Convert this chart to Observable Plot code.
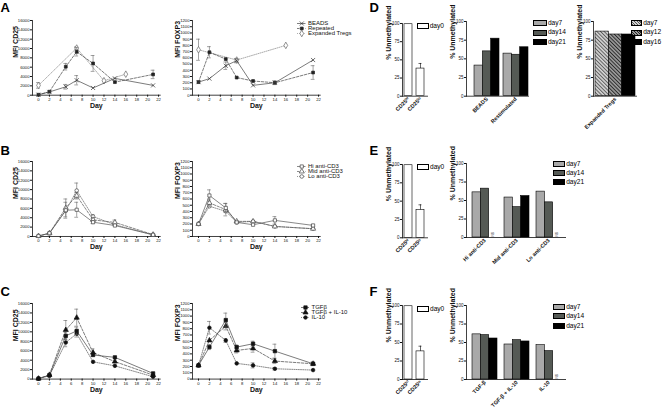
<!DOCTYPE html>
<html><head><meta charset="utf-8">
<script src="https://cdn.jsdelivr.net/npm/d3@7"></script>
<script src="https://cdn.jsdelivr.net/npm/@observablehq/plot@0.6"></script>
<style>
body{margin:0;background:#fff;}
#fig{position:relative;width:662px;height:413px;overflow:hidden;background:#fff;font-family:"Liberation Sans",Arial,sans-serif;color:#000;}
.letter{position:absolute;font-weight:bold;font-size:13px;line-height:13px;}
.lg{position:absolute;font-size:6.6px;line-height:6.6px;white-space:nowrap;}
.lg span.box{position:absolute;left:0;top:0;border:0.6px solid #000;box-sizing:border-box;}
.lg span.t{position:absolute;top:-0.2px;}
svg.bars g[aria-label="x-axis tick label"]{font-weight:bold;}
</style></head><body>
<div id="fig">
<svg width="0" height="0" style="position:absolute;left:0;top:0">
<defs>
<pattern id="hatchLight" width="2.6" height="2.6" patternUnits="userSpaceOnUse" patternTransform="rotate(-45)">
<rect width="2.6" height="2.6" fill="#d2d2d2"/><line x1="0.5" y1="0" x2="0.5" y2="2.6" stroke="#555" stroke-width="0.9"/>
</pattern>
<pattern id="hatchDark" width="2.6" height="2.6" patternUnits="userSpaceOnUse" patternTransform="rotate(-45)">
<rect width="2.6" height="2.6" fill="#9a9a9a"/><line x1="0.5" y1="0" x2="0.5" y2="2.6" stroke="#222" stroke-width="0.9"/>
</pattern>
</defs></svg>
</div>
<script>
// ---------- DATA ----------
const dayTicks = [0, 2, 4, 6, 8, 10, 12, 14, 16, 18, 20, 22];
const cd25Ticks = [0, 2000, 4000, 6000, 8000, 10000, 12000, 14000, 16000];
const foxp3Ticks = [0, 100, 200, 300, 400, 500, 600, 700, 800, 900, 1000, 1100, 1200];
const pctTicks = [0, 25, 50, 75, 100];
const days = [0, 2, 5, 7, 10, 14, 21];
const expDaysCD25 = [0, 7, 12, 16];
const expDaysFOXP3 = [0, 7, 16];

// Panel A
const aCD25Beads = [100, 700, 1800, 3200, 1550, 3600, 2100];
const aCD25BeadsErr = [0, 0, 500, 1000, 0, 0, 0];
const aCD25Repeated = [100, 750, 6100, 9300, 6800, 2800, 4450];
const aCD25RepeatedErr = [0, 0, 700, 900, 1700, 0, 900];
const aCD25Expanded = [2100, 10100, 3100, 4500];
const aCD25ExpandedErr = [600, 300, 0, 0];
const aFOXP3Beads = [210, 266, 473, 555, 158, 200, 565];
const aFOXP3BeadsErr = [0, 0, 60, 35, 0, 0, 0];
const aFOXP3Repeated = [210, 690, 580, 283, 228, 200, 364];
const aFOXP3RepeatedErr = [0, 90, 0, 0, 0, 30, 110];
const aFOXP3Expanded = [730, 565, 800];
const aFOXP3ExpandedErr = [170, 0, 0];

// Panel B
const bCD25Hi = [100, 700, 5600, 5700, 3050, 2340, 350];
const bCD25HiErr = [0, 0, 1700, 1600, 300, 0, 0];
const bCD25Mid = [100, 700, 6100, 8700, 3550, 3000, 400];
const bCD25MidErr = [0, 0, 1900, 700, 0, 500, 0];
const bCD25Lo = [100, 700, 5500, 9800, 4250, 2500, 350];
const bCD25LoErr = [0, 0, 0, 1600, 400, 0, 0];
const bFOXP3Hi = [200, 656, 457, 226, 188, 258, 177];
const bFOXP3HiErr = [0, 90, 70, 0, 0, 60, 15];
const bFOXP3Mid = [200, 538, 430, 242, 242, 161, 124];
const bFOXP3MidErr = [0, 60, 100, 0, 0, 0, 0];
const bFOXP3Lo = [200, 484, 403, 226, 242, 161, 124];
const bFOXP3LoErr = [0, 0, 0, 0, 0, 0, 0];

// Panel C
const cCD25Tgfb = [100, 800, 9150, 10200, 5100, 4600, 1200];
const cCD25TgfbErr = [0, 300, 800, 800, 0, 0, 0];
const cCD25TgfbIl10 = [100, 900, 10400, 13000, 5600, 3700, 850];
const cCD25TgfbIl10Err = [0, 0, 2000, 1800, 800, 0, 0];
const cCD25Il10 = [100, 700, 7750, 9600, 3650, 2800, 500];
const cCD25Il10Err = [0, 0, 900, 700, 0, 0, 0];
const cFOXP3Tgfb = [217, 508, 937, 508, 561, 444, 243];
const cFOXP3TgfbErr = [0, 40, 110, 30, 40, 110, 30];
const cFOXP3TgfbIl10 = [217, 614, 841, 455, 487, 286, 243];
const cFOXP3TgfbIl10Err = [0, 0, 60, 40, 60, 40, 0];
const cFOXP3Il10 = [217, 815, 614, 249, 217, 164, 143];
const cFOXP3Il10Err = [0, 100, 30, 0, 40, 20, 0];

// Bar charts (% unmethylated)
const ctrlCats = ["CD25hi", "CD25lo"];
const ctrlLabels = ["CD25ʰⁱ", "CD25ˡᵒ"];
const ctrlValues = [99, 38];
const ctrlErr = [0, 7];
const barKeys = ["day7", "day14", "day21"];
const dGroups = ["BEADS", "Restimulated"];
const dDay7 = [41, 57];
const dDay14 = [60, 55.5];
const dDay21 = [77, 65.5];
const dExpGroups = ["Expanded Tregs"];
const dExpKeys = ["day7", "day12", "day16"];
const dExpValues = [[86.5], [82.6], [82.6]];
const eGroups = ["Hi anti-CD3", "Mid anti-CD3", "Lo anti-CD3"];
const eDay7 = [61, 54, 62];
const eDay14 = [66, 41, 47.5];
const eDay21 = [null, 56, null];
const fGroups = ["TGF-β", "TGF-β + IL-10", "IL-10"];
const fDay7 = [61, 47.3, 46.4];
const fDay14 = [60, 53.2, 38.3];
const fDay21 = [55.4, 51.4, null];

// ---------- STYLES ----------
const styA = [
  {name: "BEADS", symbol: "times", fill: "none", stroke: "#333", line: "#444", dash: null, r: 2},
  {name: "Repeated", symbol: "square", fill: "#222", stroke: "#222", line: "#444", dash: "2.5,1.5", r: 1.6},
  {name: "Expanded Tregs", symbol: "diamond", fill: "#fff", stroke: "#666", line: "#888", dash: "1,1.2", r: 2}
];
const styB = [
  {name: "Hi anti-CD3", symbol: "square", fill: "#fff", stroke: "#444", line: "#555", dash: null, r: 1.8},
  {name: "Mid anti-CD3", symbol: "triangle", fill: "#fff", stroke: "#444", line: "#555", dash: "2.5,1.5", r: 1.9},
  {name: "Lo anti-CD3", symbol: "circle", fill: "#fff", stroke: "#444", line: "#666", dash: "1,1.2", r: 1.8}
];
const styC = [
  {name: "TGFβ", symbol: "square", fill: "#111", stroke: "#111", line: "#444", dash: null, r: 1.9},
  {name: "TGFβ + IL-10", symbol: "triangle", fill: "#111", stroke: "#111", line: "#444", dash: "2.5,1.5", r: 1.9},
  {name: "IL-10", symbol: "circle", fill: "#111", stroke: "#111", line: "#555", dash: "1,1.2", r: 1.8}
];
const FONT = "Liberation Sans, Arial, sans-serif";
const baseStyle = {background: "transparent", fontFamily: FONT, overflow: "visible", color: "#111"};

const fig = document.getElementById("fig");
function place(el, left, top) {
  el.style.position = "absolute";
  el.style.left = left + "px";
  el.style.top = top + "px";
  el.style.maxWidth = "none";
  fig.appendChild(el);
}
function letter(t, left, top) {
  const d = document.createElement("div");
  d.className = "letter"; d.textContent = t;
  d.style.left = left + "px"; d.style.top = top + "px";
  fig.appendChild(d);
}

function linePlot(o) {
  const mL = 32, mR = 3, mT = 4, mB = 22;
  const W = o.x1 - o.x0 + mL + mR, H = o.yB - o.yT + mT + mB;
  const marks = [
    Plot.axisY({ticks: o.yTicks, tickFormat: "d", tickSize: 2, tickPadding: 1, fontSize: 4.2, label: null}),
    Plot.axisX({ticks: dayTicks, tickFormat: "d", tickSize: 2, tickPadding: 1, fontSize: 4.2, label: null}),
    Plot.frame({anchor: "left", strokeWidth: 0.8}),
    Plot.frame({anchor: "bottom", strokeWidth: 0.8}),
    Plot.text([o.ylabel], {text: d => d, frameAnchor: "left", rotate: -90, dx: o.labDx, fontSize: 7, fontWeight: "bold"}),
    Plot.text(["Day"], {text: d => d, frameAnchor: "bottom", dy: 13, fontSize: 7, fontWeight: "bold"})
  ];
  for (const s of o.series) {
    const rows = s.days.map((d, i) => ({day: d, v: s.values[i], e: s.err[i]}));
    const er = rows.filter(r => r.e > 0);
    marks.push(Plot.line(rows, {x: "day", y: "v", stroke: s.sty.line, strokeWidth: 0.7, strokeDasharray: s.sty.dash}));
    marks.push(Plot.ruleX(er, {x: "day", y1: r => r.v - r.e, y2: r => r.v + r.e, stroke: "#666", strokeWidth: 0.6}));
    marks.push(Plot.ruleY(er, {y: r => r.v + r.e, x1: r => r.day - 0.35, x2: r => r.day + 0.35, stroke: "#666", strokeWidth: 0.6}));
    marks.push(Plot.ruleY(er, {y: r => r.v - r.e, x1: r => r.day - 0.35, x2: r => r.day + 0.35, stroke: "#666", strokeWidth: 0.6}));
    marks.push(Plot.dot(rows, {x: "day", y: "v", symbol: s.sty.symbol, r: s.sty.r, fill: s.sty.fill, stroke: s.sty.stroke, strokeWidth: 0.7}));
  }
  const svg = Plot.plot({
    width: W, height: H, marginLeft: mL, marginRight: mR, marginTop: mT, marginBottom: mB,
    x: {domain: [-1.1, 22.3]}, y: {domain: [0, o.yMax]}, style: baseStyle, marks
  });
  place(svg, o.x0 - mL, o.yT - mT);
}

function lineLegend(series, o) {
  const names = series.map(s => s.name);
  const H = o.step * names.length, W = 90;
  const marks = [];
  for (const s of series) {
    marks.push(Plot.ruleY([s.name], {x1: 0, x2: o.len, stroke: s.line, strokeWidth: 0.7, strokeDasharray: s.dash}));
    marks.push(Plot.dot([s.name], {x: o.len / 2, y: d => d, symbol: s.symbol, r: s.r, fill: s.fill, stroke: s.stroke, strokeWidth: 0.7}));
  }
  marks.push(Plot.text(names, {x: o.len, y: d => d, text: d => d, dx: 2, textAnchor: "start", fontSize: 6}));
  const svg = Plot.plot({
    width: W, height: H, margin: 0,
    x: {domain: [0, W], range: [0, W], axis: null},
    y: {type: "point", domain: names, range: [o.step / 2, H - o.step / 2], axis: null},
    style: baseStyle, marks
  });
  place(svg, o.left, o.top - o.step / 2);
}

function barPlot(o) {
  const mL = 26, mR = 2, mT = 4, mB = 40;
  const W = o.x1 - o.x0 + mL + mR, H = o.yB - o.yT + mT + mB;
  const n = o.keys.length;
  const bw = d3.scaleBand().domain(o.groups).range([0, o.x1 - o.x0])
    .paddingInner(o.pi).paddingOuter(o.po).align(o.align).bandwidth();
  const w = bw / n;
  const rows = [];
  o.groups.forEach((g, gi) => o.keys.forEach((k, ki) =>
    rows.push({group: g, key: k, ki, v: o.values[ki][gi], e: o.err ? o.err[ki][gi] : 0})));
  const marks = [
    Plot.axisY({ticks: pctTicks, tickSize: 2, tickPadding: 1, fontSize: 4.5, label: null}),
    Plot.axisX({tickSize: 0, tickRotate: -45, tickPadding: 2, fontSize: 5.5, label: null, tickFormat: o.tickFormat}),
    Plot.frame({anchor: "left", strokeWidth: 0.8}),
    Plot.frame({anchor: "bottom", strokeWidth: 0.8}),
    Plot.text(["% Unmethylated"], {text: d => d, frameAnchor: "left", rotate: -90, dx: -14, fontSize: 7, fontWeight: "bold"})
  ];
  for (let ki = 0; ki < n; ki++) {
    const dx = (ki - (n - 1) / 2) * w;
    const sub = rows.filter(r => r.ki === ki);
    marks.push(Plot.barY(sub.filter(r => r.v != null), {x: "group", y: "v", fill: o.fills[ki], stroke: "#000", strokeWidth: 0.6, insetLeft: ki * w, insetRight: (n - 1 - ki) * w}));
    marks.push(Plot.text(sub.filter(r => r.v == null), {x: "group", y: () => 0, text: () => "NS", rotate: -90, textAnchor: "start", fontSize: 3.2, dx, dy: -1}));
    const er = sub.filter(r => r.e > 0);
    marks.push(Plot.ruleX(er, {x: "group", y1: "v", y2: r => r.v + r.e, dx, stroke: "#000", strokeWidth: 0.6}));
    marks.push(Plot.tickY(er, {x: "group", y: r => r.v + r.e, insetLeft: ki * w + w * 0.28, insetRight: (n - 1 - ki) * w + w * 0.28, stroke: "#000", strokeWidth: 0.6}));
  }
  const svg = Plot.plot({
    className: "bars",
    width: W, height: H, marginLeft: mL, marginRight: mR, marginTop: mT, marginBottom: mB,
    x: {domain: o.groups, paddingInner: o.pi, paddingOuter: o.po, align: o.align},
    y: {domain: [0, 100]}, style: baseStyle, marks
  });
  svg.classList.add("bars");
  place(svg, o.x0 - mL, o.yT - mT);
}

function boxLegend(items, o) {
  items.forEach((it, i) => {
    const d = document.createElement("div");
    d.className = "lg";
    d.style.left = o.left + "px";
    d.style.top = (o.top + i * o.step) + "px";
    const b = document.createElement("span");
    b.className = "box";
    b.style.width = o.w + "px"; b.style.height = o.h + "px";
    b.style.background = it.css;
    const t = document.createElement("span");
    t.className = "t"; t.textContent = it.label;
    t.style.left = (o.w + 1.2) + "px";
    d.appendChild(b); d.appendChild(t);
    fig.appendChild(d);
  });
}

// ---------- Panel letters ----------
letter("A", 0.5, 0.8); letter("B", 0.5, 143.5); letter("C", 0.5, 284.8);
letter("D", 369.5, 0.8); letter("E", 369.5, 143.5); letter("F", 369.5, 284.8);

// ---------- Line charts ----------
const S = (sty, d, v, e) => ({sty, days: d, values: v, err: e});
linePlot({x0: 32.3, x1: 160, yT: 19.5, yB: 94.2, yMax: 16000, yTicks: cd25Ticks, ylabel: "MFI CD25", labDx: -17,
  series: [S(styA[2], expDaysCD25, aCD25Expanded, aCD25ExpandedErr), S(styA[1], days, aCD25Repeated, aCD25RepeatedErr), S(styA[0], days, aCD25Beads, aCD25BeadsErr)]});
linePlot({x0: 191.8, x1: 319.5, yT: 19.5, yB: 94.2, yMax: 1200, yTicks: foxp3Ticks, ylabel: "MFI FOXP3", labDx: -15,
  series: [S(styA[2], expDaysFOXP3, aFOXP3Expanded, aFOXP3ExpandedErr), S(styA[1], days, aFOXP3Repeated, aFOXP3RepeatedErr), S(styA[0], days, aFOXP3Beads, aFOXP3BeadsErr)]});
linePlot({x0: 32.3, x1: 160, yT: 160.7, yB: 235.7, yMax: 16000, yTicks: cd25Ticks, ylabel: "MFI CD25", labDx: -17,
  series: [S(styB[2], days, bCD25Lo, bCD25LoErr), S(styB[1], days, bCD25Mid, bCD25MidErr), S(styB[0], days, bCD25Hi, bCD25HiErr)]});
linePlot({x0: 191.8, x1: 319.5, yT: 160.7, yB: 235.7, yMax: 1200, yTicks: foxp3Ticks, ylabel: "MFI FOXP3", labDx: -15,
  series: [S(styB[2], days, bFOXP3Lo, bFOXP3LoErr), S(styB[1], days, bFOXP3Mid, bFOXP3MidErr), S(styB[0], days, bFOXP3Hi, bFOXP3HiErr)]});
linePlot({x0: 32.3, x1: 160, yT: 302.7, yB: 378.3, yMax: 16000, yTicks: cd25Ticks, ylabel: "MFI CD25", labDx: -17,
  series: [S(styC[2], days, cCD25Il10, cCD25Il10Err), S(styC[1], days, cCD25TgfbIl10, cCD25TgfbIl10Err), S(styC[0], days, cCD25Tgfb, cCD25TgfbErr)]});
linePlot({x0: 191.8, x1: 319.5, yT: 302.7, yB: 378.3, yMax: 1200, yTicks: foxp3Ticks, ylabel: "MFI FOXP3", labDx: -15,
  series: [S(styC[2], days, cFOXP3Il10, cFOXP3Il10Err), S(styC[1], days, cFOXP3TgfbIl10, cFOXP3TgfbIl10Err), S(styC[0], days, cFOXP3Tgfb, cFOXP3TgfbErr)]});

lineLegend(styA, {left: 297, top: 19, step: 8.8, len: 8.5});
lineLegend(styB, {left: 297, top: 162.7, step: 7.8, len: 8.5});
lineLegend(styC, {left: 300.5, top: 304, step: 8.1, len: 8});

// ---------- Bar charts ----------
const ctrlFmt = d => ctrlLabels[ctrlCats.indexOf(d)];
const greyFills = ["#a9a9a9", "#555a55", "#000"];
for (const [yT, yB] of [[23.3, 96], [164, 237.3], [305.3, 379.3]]) {
  barPlot({x0: 401.7, x1: 426.7, yT, yB, groups: ctrlCats, keys: ["day0"], values: [ctrlValues], err: [ctrlErr],
    fills: ["#fff"], pi: 0.31, po: 0.117, align: 0.43, tickFormat: ctrlFmt});
}
barPlot({x0: 466, x1: 528, yT: 21.3, yB: 96, groups: dGroups, keys: barKeys, values: [dDay7, dDay14, dDay21],
  fills: greyFills, pi: 0.155, po: 0.125, align: 0.9});
barPlot({x0: 593, x1: 636, yT: 21.3, yB: 96, groups: dExpGroups, keys: dExpKeys, values: dExpValues,
  fills: ["url(#hatchLight)", "url(#hatchDark)", "#000"], pi: 0, po: 0.0375, align: 0.5});
barPlot({x0: 466, x1: 565, yT: 163.3, yB: 237.3, groups: eGroups, keys: barKeys, values: [eDay7, eDay14, eDay21],
  fills: greyFills, pi: 0.224, po: 0.149, align: 0.59});
barPlot({x0: 466, x1: 565, yT: 305.3, yB: 379.3, groups: fGroups, keys: barKeys, values: [fDay7, fDay14, fDay21],
  fills: greyFills, pi: 0.224, po: 0.149, align: 0.59});

// ---------- Bar legends ----------
const day0Item = [{label: "day0", css: "#fff"}];
boxLegend(day0Item, {left: 417, top: 23, step: 0, w: 11.5, h: 6});
boxLegend(day0Item, {left: 417.3, top: 164, step: 0, w: 11.5, h: 6});
boxLegend(day0Item, {left: 417.3, top: 306, step: 0, w: 11.5, h: 6});
const greyItems = barKeys.map((k, i) => ({label: k, css: greyFills[i]}));
boxLegend(greyItems, {left: 533.3, top: 20, step: 9.65, w: 13.4, h: 6});
boxLegend([
  {label: "day7", css: "repeating-linear-gradient(45deg, #555 0 0.9px, #d2d2d2 0.9px 1.9px)"},
  {label: "day12", css: "repeating-linear-gradient(45deg, #222 0 0.9px, #9a9a9a 0.9px 1.9px)"},
  {label: "day16", css: "#000"}
], {left: 630.5, top: 20, step: 9.65, w: 11.5, h: 6});
boxLegend(greyItems, {left: 553.3, top: 160.7, step: 9.3, w: 11.7, h: 6});
boxLegend(greyItems, {left: 553.3, top: 304, step: 9.35, w: 11.7, h: 6});
</script>
</body></html>
